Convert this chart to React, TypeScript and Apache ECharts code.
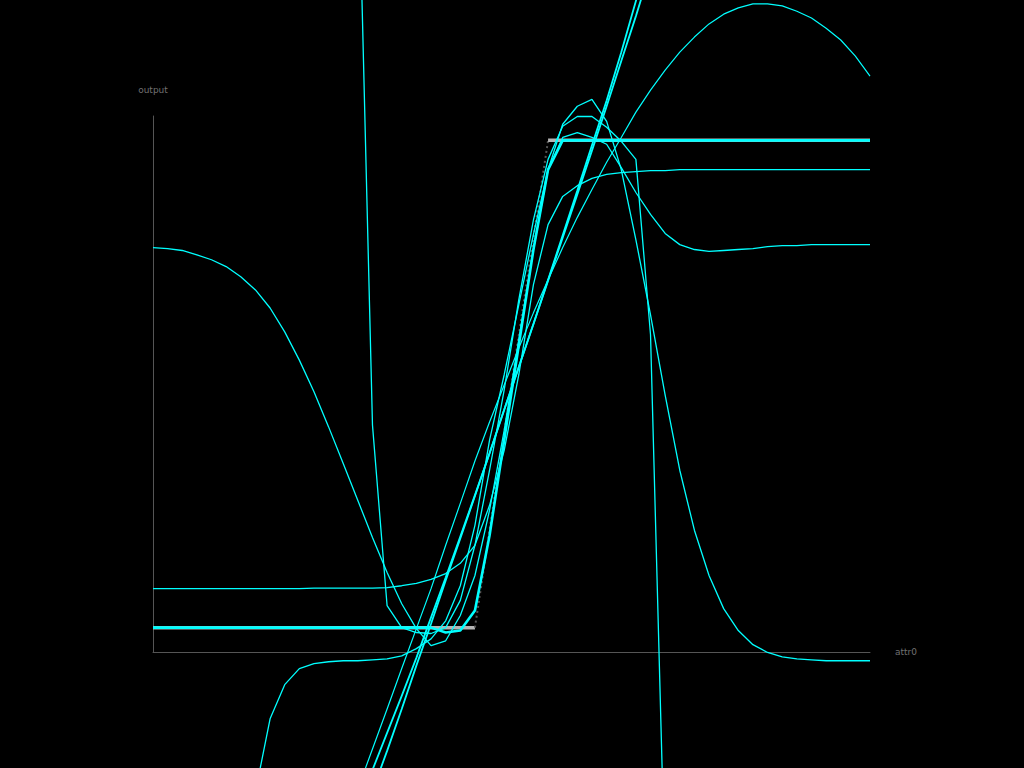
import React, { useEffect, useRef } from "react";
import * as echarts from "echarts";

// sample positions along attr0 (50 samples)
const X = [
  0, 0.0204, 0.0408, 0.0612, 0.0816, 0.102, 0.1224, 0.1429, 0.1633, 0.1837,
  0.2041, 0.2245, 0.2449, 0.2653, 0.2857, 0.3061, 0.3265, 0.3469, 0.3673, 0.3878,
  0.4082, 0.4286, 0.449, 0.4694, 0.4898, 0.5102, 0.5306, 0.551, 0.5714, 0.5918,
  0.6122, 0.6327, 0.6531, 0.6735, 0.6939, 0.7143, 0.7347, 0.7551, 0.7755, 0.7959,
  0.8163, 0.8367, 0.8571, 0.8776, 0.898, 0.9184, 0.9388, 0.9592, 0.9796, 1,
];

// target data (step with ramp)
const TARGET_LOW_X = [0, 0.449];
const TARGET_LOW_Y = [0, 0];
const TARGET_RAMP_X = [0.449, 0.551];
const TARGET_RAMP_Y = [0, 1];
const TARGET_HIGH_X = [0.551, 1];
const TARGET_HIGH_Y = [1, 1];

type V = number | null;

const FIT_A: V[] = [
  0, 0, 0, 0, 0, 0, 0, 0, 0, 0,
  0, 0, 0, 0, 0, 0, 0, 0, 0, 0,
  -0.01, -0.006, 0.035, 0.189, 0.385, 0.58, 0.776, 0.94, 1, 1,
  1, 1, 1, 1, 1, 1, 1, 1, 1, 1,
  1, 1, 1, 1, 1, 1, 1, 1, 1, 1,
];

const FIT_B: V[] = [
  0.08, 0.08, 0.08, 0.08, 0.08, 0.08, 0.08, 0.08, 0.08, 0.08,
  0.08, 0.081, 0.081, 0.081, 0.081, 0.081, 0.082, 0.086, 0.091, 0.099,
  0.111, 0.132, 0.169, 0.251, 0.364, 0.519, 0.704, 0.827, 0.885, 0.907,
  0.922, 0.93, 0.934, 0.936, 0.938, 0.938, 0.94, 0.94, 0.94, 0.94,
  0.94, 0.94, 0.94, 0.94, 0.94, 0.94, 0.94, 0.94, 0.94, 0.94,
];

const FIT_C: V[] = [
  0.78, 0.778, 0.774, 0.765, 0.755, 0.741, 0.72, 0.693, 0.656, 0.607,
  0.549, 0.484, 0.412, 0.337, 0.261, 0.185, 0.113, 0.049, -0.002, -0.037,
  -0.027, 0.025, 0.107, 0.241, 0.405, 0.591, 0.776, 0.94, 1.033, 1.07,
  1.084, 1.039, 0.94, 0.796, 0.642, 0.477, 0.323, 0.2, 0.107, 0.039,
  -0.006, -0.035, -0.051, -0.06, -0.064, -0.066, -0.068, -0.068, -0.068, -0.068,
];

const FIT_D: V[] = [
  null, null, null, null, null, null, null, -0.337, -0.187, -0.117,
  -0.084, -0.074, -0.07, -0.068, -0.068, -0.066, -0.064, -0.058, -0.043, -0.023,
  0.014, 0.086, 0.21, 0.385, 0.519, 0.663, 0.807, 0.94, 1.006, 1.016,
  1.006, 0.992, 0.944, 0.893, 0.848, 0.809, 0.786, 0.776, 0.772, 0.774,
  0.776, 0.778, 0.782, 0.784, 0.784, 0.786, 0.786, 0.786, 0.786, 0.786,
];

const FIT_E: V[] = [
  null, null, null, null, null, null, null, null, null, null,
  null, null, null, null, 1.632, 0.416, 0.045, 0, -0.01, -0.012,
  0, 0.056, 0.169, 0.323, 0.488, 0.673, 0.837, 0.961, 1.029, 1.049,
  1.049, 1.027, 0.998, 0.961, 0.601, -0.521, null, null, null, null,
  null, null, null, null, null, null, null, null, null, null,
];

const FIT_F: V[] = [
  null, null, null, null, null, null, null, null, null, null,
  null, null, null, null, -0.331, -0.249, -0.167, -0.084, -0.002, 0.08,
  0.169, 0.255, 0.342, 0.422, 0.498, 0.574, 0.646, 0.714, 0.78, 0.842,
  0.899, 0.955, 1.006, 1.058, 1.103, 1.144, 1.181, 1.212, 1.239, 1.259,
  1.272, 1.28, 1.28, 1.276, 1.265, 1.251, 1.23, 1.206, 1.173, 1.132,
];

const FIT_G: V[] = [
  null, null, null, null, null, null, null, null, null, null,
  null, null, null, null, null, -0.292, -0.216, -0.14, -0.062, 0.021,
  0.103, 0.187, 0.272, 0.358, 0.447, 0.535, 0.623, 0.714, 0.805, 0.897,
  0.99, 1.082, 1.181, 1.286, 1.393, null, null, null, null, null,
  null, null, null, null, null, null, null, null, null, null,
];

const FIT_H: V[] = [
  null, null, null, null, null, null, null, null, null, null,
  null, null, null, null, null, -0.335, -0.253, -0.167, -0.078, 0.008,
  0.097, 0.183, 0.27, 0.358, 0.447, 0.535, 0.623, 0.712, 0.8, 0.889,
  0.979, 1.07, 1.163, 1.255, 1.352, null, null, null, null, null,
  null, null, null, null, null, null, null, null, null, null,
];

const FITS: { name: string; values: V[]; width: number }[] = [
  { name: "fit A", values: FIT_A, width: 2.6 },
  { name: "fit B", values: FIT_B, width: 1.3 },
  { name: "fit C", values: FIT_C, width: 1.3 },
  { name: "fit D", values: FIT_D, width: 1.3 },
  { name: "fit E", values: FIT_E, width: 1.3 },
  { name: "fit F", values: FIT_F, width: 1.2 },
  { name: "fit G", values: FIT_G, width: 1.8 },
  { name: "fit H", values: FIT_H, width: 1.8 },
];

const CYAN = "#00ffff";

export default function App() {
  const ref = useRef<HTMLDivElement>(null);

  useEffect(() => {
    document.body.style.margin = "0";
    document.body.style.background = "#000";
    if (!ref.current) return;
    const chart = echarts.init(ref.current, undefined, { renderer: "svg" });

    const nameStyle = { color: "#707070", fontSize: 9, fontFamily: "DejaVu Sans" };

    const targetSeries = (name: string, xs: number[], ys: number[], style: any) => ({
      name,
      type: "line",
      data: xs.map((x, i) => [x, ys[i]]),
      showSymbol: false,
      symbol: "none",
      clip: false,
      silent: true,
      lineStyle: style,
      z: 1,
    });

    const series: any[] = [
      targetSeries("target", TARGET_LOW_X, TARGET_LOW_Y, { color: "#b4b4b4", width: 3.5 }),
      targetSeries("target ramp", TARGET_RAMP_X, TARGET_RAMP_Y, {
        color: "#555",
        width: 2,
        type: [2, 3],
      }),
      targetSeries("target high", TARGET_HIGH_X, TARGET_HIGH_Y, { color: "#b4b4b4", width: 3.5 }),
      ...FITS.map((f, k) => ({
        name: f.name,
        type: "line",
        data: X.map((x, i) => [x, f.values[i]]).filter((p) => p[1] !== null),
        showSymbol: false,
        symbol: "none",
        clip: false,
        silent: true,
        lineStyle: { color: CYAN, width: f.width },
        z: 2 + k,
      })),
    ];

    chart.setOption({
      animation: false,
      backgroundColor: "#000",
      grid: { left: 153, right: 154, top: 116, bottom: 116 },
      xAxis: {
        type: "value",
        min: 0,
        max: 1,
        name: "attr0",
        nameLocation: "end",
        nameGap: 25,
        nameTextStyle: { ...nameStyle, padding: [4, 0, 0, 0] },
        axisLine: { show: true, onZero: false, lineStyle: { color: "#555", width: 1 } },
        axisTick: { show: false },
        axisLabel: { show: false },
        splitLine: { show: false },
      },
      yAxis: {
        type: "value",
        min: -0.05,
        max: 1.05,
        name: "output",
        nameLocation: "end",
        nameGap: 22,
        nameTextStyle: nameStyle,
        axisLine: { show: true, onZero: false, lineStyle: { color: "#555", width: 1 } },
        axisTick: { show: false },
        axisLabel: { show: false },
        splitLine: { show: false },
      },
      series,
    });

    return () => chart.dispose();
  }, []);

  return (
    <div
      ref={ref}
      style={{ position: "absolute", left: 0, top: 0, width: 1024, height: 768, background: "#000" }}
    />
  );
}
